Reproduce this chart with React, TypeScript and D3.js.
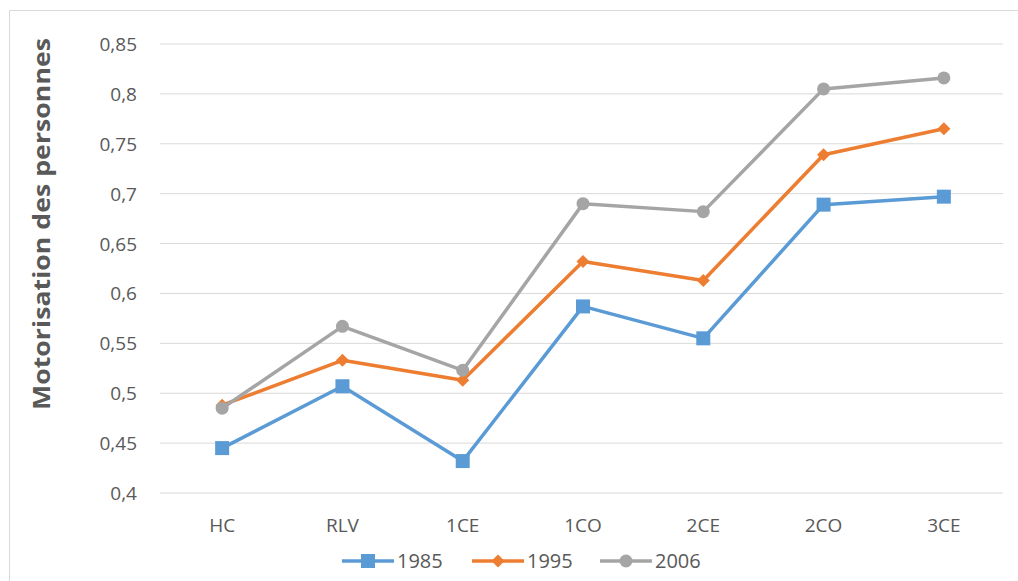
import React from "react";
import * as d3 from "d3";

const categories = ["HC", "RLV", "1CE", "1CO", "2CE", "2CO", "3CE"];
const series1985 = [0.445, 0.507, 0.432, 0.587, 0.555, 0.689, 0.697];
const series1995 = [0.488, 0.533, 0.513, 0.632, 0.613, 0.739, 0.765];
const series2006 = [0.485, 0.567, 0.523, 0.690, 0.682, 0.805, 0.816];
const yTicks = [0.4, 0.45, 0.5, 0.55, 0.6, 0.65, 0.7, 0.75, 0.8, 0.85];
const seriesNames = ["1985", "1995", "2006"];

const W = 1018;
const H = 581;
const colors = ["#5B9BD5", "#ED7D31", "#A5A5A5"];
const markers = ["square", "diamond", "circle"];
const font = "'Open Sans', 'Noto Sans', sans-serif";
const textColor = "#595959";

function Marker({ type, x, y, color }: { type: string; x: number; y: number; color: string }) {
  if (type === "square") return <rect x={x - 7} y={y - 7} width={14} height={14} fill={color} />;
  if (type === "diamond")
    return <path d={`M${x},${y - 6.5}L${x + 6.5},${y}L${x},${y + 6.5}L${x - 6.5},${y}Z`} fill={color} />;
  return <circle cx={x} cy={y} r={6.5} fill={color} />;
}

export default function App() {
  const x = d3.scalePoint<string>().domain(categories).range([162, 1004]).padding(0.5);
  const y = d3.scaleLinear().domain([0.4, 0.85]).range([493, 44]);
  const all = [series1985, series1995, series2006];
  const line = d3
    .line<number>()
    .x((_, i) => x(categories[i]) as number)
    .y((v) => y(v));
  const fmt = (v: number) => String(+v.toFixed(2)).replace(".", ",");
  const legendX = [342, 472, 600];

  return (
    <svg width={W} height={H} style={{ position: "absolute", left: 0, top: 0, background: "#fff" }} fontFamily={font}>
      <rect x={0} y={0} width={W} height={H} fill="#fff" />
      <path d={`M9.5,${H}V10.5H${W}`} fill="none" stroke="#d9d9d9" strokeWidth={1} />
      {yTicks.map((t) => (
        <g key={t}>
          <line x1={160} x2={1003} y1={y(t)} y2={y(t)} stroke="#d9d9d9" strokeWidth={1} />
          <text x={137} y={y(t) + 7} textAnchor="end" fontSize={19} fill={textColor}>
            {fmt(t)}
          </text>
        </g>
      ))}
      {categories.map((c) => (
        <text key={c} x={x(c)} y={532} textAnchor="middle" fontSize={19} fill={textColor}>
          {c}
        </text>
      ))}
      <text
        transform={`translate(50,224) rotate(-90)`}
        textAnchor="middle"
        fontSize={23}
        fontWeight="bold"
        fill={textColor}
        textLength={372}
        lengthAdjust="spacingAndGlyphs"
      >
        Motorisation des personnes
      </text>
      {all.map((s, si) => (
        <g key={si}>
          <path d={line(s) || ""} fill="none" stroke={colors[si]} strokeWidth={3.5} strokeLinejoin="round" />
          {s.map((v, i) => (
            <Marker key={i} type={markers[si]} x={x(categories[i]) as number} y={y(v)} color={colors[si]} />
          ))}
        </g>
      ))}
      {seriesNames.map((n, i) => (
        <g key={n}>
          <line x1={legendX[i]} x2={legendX[i] + 52} y1={561} y2={561} stroke={colors[i]} strokeWidth={3.5} />
          <Marker type={markers[i]} x={legendX[i] + 26} y={561} color={colors[i]} />
          <text x={legendX[i] + 55} y={568} fontSize={20} fill={textColor}>
            {n}
          </text>
        </g>
      ))}
    </svg>
  );
}
